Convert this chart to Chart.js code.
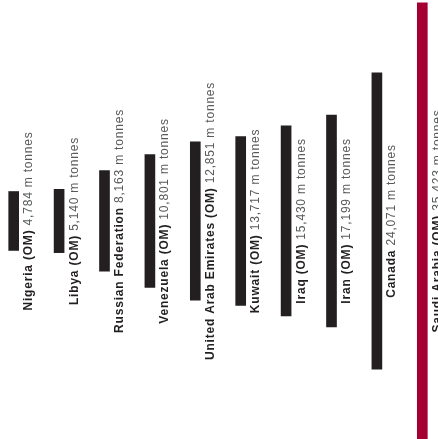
<!DOCTYPE html>
<html>
<head>
<meta charset="utf-8">
<script src="https://cdn.jsdelivr.net/npm/chart.js@4"></script>
<style>
  html, body { margin: 0; padding: 0; background: #fff; overflow: hidden; }
  #wrap { position: absolute; left: -9px; top: 0; width: 454px; height: 439px; }
</style>
</head>
<body>
<div id="wrap"><canvas id="oilChart" width="454" height="439"></canvas></div>
<script>
// producers, smallest to largest (m tonnes)
const countries = ["Nigeria (OM)", "Libya (OM)", "Russian Federation", "Venezuela (OM)",
  "United Arab Emirates (OM)", "Kuwait (OM)", "Iraq (OM)", "Iran (OM)", "Canada", "Saudi Arabia (OM)"];
const tonnes = [4784, 5140, 8163, 10801, 12851, 13717, 15430, 17199, 24071, 35423];
const valueLabels = ["4,784", "5,140", "8,163", "10,801", "12,851", "13,717", "15,430", "17,199", "24,071", "35,423"];
const unit = "m tonnes";

const dark = '#231f20';
const red = '#a50034';

// bars sit centred on the zero line, half above and half below
const spans = tonnes.map(v => [-v / 2, v / 2]);
const barColors = tonnes.map(v => v === Math.max(...tonnes) ? red : dark);

// name (bold) + value, rotated, beside each bar
const sideLabels = {
  id: 'sideLabels',
  afterDatasetsDraw(chart) {
    const ctx = chart.ctx;
    const meta = chart.getDatasetMeta(0);
    const yc = chart.scales.y.getPixelForValue(0);
    const bold = 'bold 12px "Liberation Sans", Arial, sans-serif';
    const light = '12px "Liberation Sans", Arial, sans-serif';
    meta.data.forEach((bar, i) => {
      ctx.save();
      ctx.letterSpacing = '0.8px';
      const name = countries[i] + ' ';
      const val = valueLabels[i] + ' ' + unit;
      ctx.font = bold;
      const w1 = ctx.measureText(name).width;
      ctx.font = light;
      const w2 = ctx.measureText(val).width;
      ctx.translate(bar.x + 18.5, yc);
      ctx.rotate(-Math.PI / 2);
      ctx.textBaseline = 'alphabetic';
      ctx.textAlign = 'left';
      let x0 = -(w1 + w2) / 2;
      ctx.font = bold;
      ctx.fillStyle = dark;
      ctx.fillText(name, x0, 0);
      ctx.font = light;
      ctx.fillStyle = '#58595b';
      ctx.fillText(val, x0 + w1, 0);
      ctx.restore();
    });
  }
};

var ctx = document.getElementById('oilChart').getContext('2d');
var chart = new Chart(ctx, {
  type: 'bar',
  data: {
    labels: countries,
    datasets: [{
      data: spans,
      backgroundColor: barColors,
      borderWidth: 0,
      barThickness: 10
    }]
  },
  options: {
    responsive: false,
    animation: false,
    layout: { padding: 0 },
    plugins: {
      legend: { display: false },
      tooltip: { enabled: false }
    },
    scales: {
      x: { display: false },
      y: { display: false, min: -17700, max: 17940 }
    }
  },
  plugins: [sideLabels]
});
</script>
</body>
</html>
